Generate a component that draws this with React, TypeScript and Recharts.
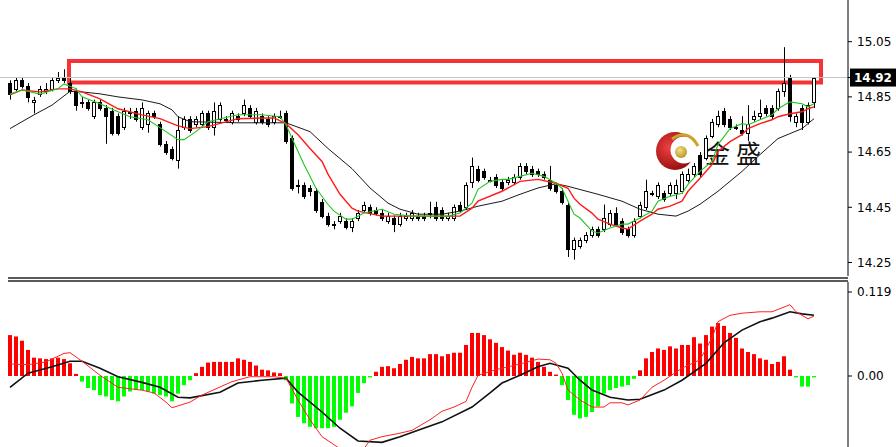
import React from 'react';
import { ComposedChart, Bar, Line, XAxis, YAxis, Cell, ReferenceLine, ReferenceArea } from 'recharts';

// 价格 K 线（每根一个值）
const openP = [
  14.90, 14.88, 14.91, 14.89, 14.83, 14.86, 14.87, 14.88, 14.91, 14.92,
  14.90, 14.87, 14.83, 14.83, 14.78, 14.83, 14.81, 14.80, 14.78, 14.74,
  14.79, 14.80, 14.74, 14.75, 14.79, 14.75, 14.68, 14.66, 14.62, 14.74,
  14.77, 14.75, 14.75, 14.79, 14.74, 14.77, 14.77, 14.76, 14.78, 14.79,
  14.81, 14.76, 14.78, 14.77, 14.76, 14.78, 14.79, 14.70, 14.53, 14.53,
  14.52, 14.51, 14.47, 14.42, 14.39, 14.40, 14.40, 14.38, 14.41, 14.44,
  14.45, 14.44, 14.43, 14.40, 14.41, 14.39, 14.41, 14.41, 14.42, 14.42,
  14.43, 14.45, 14.44, 14.41, 14.41, 14.46, 14.45, 14.54, 14.59, 14.58,
  14.55, 14.56, 14.54, 14.54, 14.54, 14.56, 14.60, 14.59, 14.58, 14.57,
  14.55, 14.53, 14.51, 14.46, 14.30, 14.31, 14.33, 14.35, 14.37, 14.37,
  14.39, 14.43, 14.40, 14.37, 14.35, 14.42, 14.45, 14.50, 14.49, 14.50,
  14.50, 14.50, 14.51, 14.55, 14.57, 14.64, 14.63, 14.71, 14.75, 14.80,
  14.77, 14.74, 14.73, 14.72, 14.77, 14.78, 14.81, 14.81, 14.81, 14.87,
  14.92, 14.76, 14.81, 14.76, 14.83,
];
const highP = [
  14.91, 14.92, 14.92, 14.90, 14.85, 14.89, 14.90, 14.92, 14.94, 14.95,
  14.92, 14.88, 14.85, 14.84, 14.84, 14.84, 14.82, 14.81, 14.79, 14.81,
  14.81, 14.81, 14.83, 14.80, 14.80, 14.76, 14.69, 14.67, 14.78, 14.78,
  14.78, 14.78, 14.80, 14.80, 14.83, 14.83, 14.78, 14.80, 14.79, 14.84,
  14.82, 14.81, 14.79, 14.78, 14.79, 14.80, 14.80, 14.71, 14.55, 14.54,
  14.53, 14.52, 14.48, 14.43, 14.40, 14.43, 14.41, 14.41, 14.44, 14.47,
  14.46, 14.45, 14.44, 14.43, 14.42, 14.43, 14.43, 14.44, 14.43, 14.43,
  14.47, 14.47, 14.45, 14.43, 14.46, 14.47, 14.54, 14.63, 14.60, 14.59,
  14.56, 14.57, 14.55, 14.56, 14.57, 14.61, 14.61, 14.60, 14.59, 14.58,
  14.60, 14.54, 14.52, 14.47, 14.34, 14.34, 14.36, 14.38, 14.38, 14.46,
  14.44, 14.45, 14.41, 14.38, 14.41, 14.47, 14.55, 14.51, 14.54, 14.51,
  14.54, 14.55, 14.58, 14.59, 14.61, 14.65, 14.71, 14.77, 14.80, 14.81,
  14.78, 14.75, 14.78, 14.82, 14.80, 14.84, 14.82, 14.82, 14.88, 15.03,
  14.93, 14.79, 14.82, 14.83, 14.92,
];
const lowP = [
  14.84, 14.87, 14.88, 14.83, 14.79, 14.85, 14.86, 14.87, 14.90, 14.90,
  14.86, 14.80, 14.81, 14.80, 14.77, 14.80, 14.68, 14.71, 14.71, 14.73,
  14.77, 14.76, 14.73, 14.72, 14.77, 14.67, 14.64, 14.62, 14.59, 14.73,
  14.72, 14.74, 14.74, 14.73, 14.71, 14.76, 14.76, 14.75, 14.76, 14.78,
  14.77, 14.75, 14.75, 14.74, 14.75, 14.77, 14.68, 14.51, 14.50, 14.48,
  14.49, 14.43, 14.41, 14.38, 14.37, 14.39, 14.37, 14.36, 14.40, 14.43,
  14.42, 14.42, 14.40, 14.39, 14.36, 14.38, 14.40, 14.40, 14.40, 14.40,
  14.41, 14.40, 14.40, 14.40, 14.40, 14.43, 14.44, 14.52, 14.54, 14.55,
  14.54, 14.52, 14.51, 14.53, 14.53, 14.55, 14.57, 14.56, 14.56, 14.55,
  14.51, 14.50, 14.46, 14.27, 14.26, 14.30, 14.32, 14.34, 14.34, 14.36,
  14.38, 14.38, 14.35, 14.34, 14.34, 14.41, 14.44, 14.49, 14.48, 14.47,
  14.49, 14.48, 14.50, 14.54, 14.56, 14.56, 14.62, 14.70, 14.74, 14.74,
  14.73, 14.73, 14.71, 14.69, 14.76, 14.77, 14.78, 14.77, 14.80, 14.85,
  14.76, 14.74, 14.73, 14.75, 14.81,
];
const closeP = [
  14.86, 14.91, 14.89, 14.85, 14.84, 14.88, 14.88, 14.91, 14.92, 14.91,
  14.87, 14.82, 14.83, 14.81, 14.83, 14.81, 14.78, 14.72, 14.72, 14.80,
  14.795, 14.77, 14.81, 14.79, 14.78, 14.68, 14.65, 14.63, 14.73, 14.77,
  14.73, 14.77, 14.79, 14.74, 14.80, 14.82, 14.77, 14.79, 14.77, 14.82,
  14.78, 14.80, 14.76, 14.75, 14.78, 14.78, 14.69, 14.52, 14.53, 14.49,
  14.51, 14.44, 14.42, 14.39, 14.39, 14.42, 14.38, 14.40, 14.43, 14.46,
  14.43, 14.43, 14.41, 14.42, 14.39, 14.42, 14.42, 14.43, 14.41, 14.41,
  14.43, 14.41, 14.41, 14.42, 14.45, 14.44, 14.53, 14.60, 14.55, 14.56,
  14.55, 14.53, 14.52, 14.55, 14.56, 14.60, 14.58, 14.57, 14.57, 14.56,
  14.52, 14.51, 14.47, 14.30, 14.33, 14.33, 14.35, 14.37, 14.35, 14.41,
  14.43, 14.39, 14.36, 14.35, 14.40, 14.46, 14.51, 14.50, 14.53, 14.48,
  14.53, 14.53, 14.57, 14.57, 14.60, 14.57, 14.70, 14.76, 14.78, 14.75,
  14.74, 14.74, 14.72, 14.75, 14.78, 14.79, 14.79, 14.78, 14.87, 14.90,
  14.78, 14.78, 14.76, 14.82, 14.92,
];

// 均线读数 [K线序号, 价格]
const maFastPts = [
  [0, 14.86], [2, 14.875], [5, 14.86], [8, 14.88], [9, 14.897], [11, 14.88], [12, 14.85],
  [15, 14.825], [18, 14.796], [20, 14.778], [23, 14.767], [26, 14.724], [28, 14.695],
  [29, 14.695], [31, 14.724], [33, 14.76], [38, 14.785], [42, 14.785], [45, 14.778],
  [46, 14.749], [47, 14.70], [49, 14.605], [51, 14.519], [53, 14.46], [54, 14.436],
  [56, 14.407], [57, 14.407], [59, 14.429], [62, 14.443], [64, 14.425], [67, 14.418],
  [70, 14.418], [73, 14.418], [75, 14.429], [77, 14.465], [78, 14.515], [80, 14.544],
  [82, 14.551], [83, 14.551], [85, 14.562], [87, 14.573], [89, 14.562], [91, 14.537],
  [92, 14.519], [93, 14.472], [94, 14.425], [95, 14.411], [97, 14.364], [98, 14.357],
  [100, 14.375], [102, 14.389], [103, 14.389], [105, 14.411], [107, 14.436], [108, 14.472],
  [110, 14.49], [112, 14.501], [113, 14.533], [115, 14.58], [117, 14.616], [118, 14.677],
  [120, 14.735], [122, 14.753], [123, 14.749], [125, 14.767], [127, 14.785], [128, 14.807],
  [130, 14.832], [132, 14.825], [133, 14.814], [134, 14.825],
];
const maMidPts = [
  [0, 14.857], [2, 14.875], [5, 14.868], [8, 14.879], [10, 14.879], [12, 14.868],
  [15, 14.843], [18, 14.807], [22, 14.785], [25, 14.771], [28, 14.745], [30, 14.735],
  [33, 14.742], [38, 14.771], [44, 14.774], [46, 14.753], [48, 14.713], [50, 14.663],
  [52, 14.616], [53, 14.57], [55, 14.497], [57, 14.447], [58, 14.436], [62, 14.418],
  [68, 14.418], [75, 14.418], [77, 14.447], [78, 14.472], [82, 14.508], [85, 14.544],
  [88, 14.551], [91, 14.537], [93, 14.519], [94, 14.483], [95, 14.461], [97, 14.429],
  [98, 14.407], [100, 14.389], [102, 14.375], [103, 14.371], [105, 14.40], [107, 14.425],
  [108, 14.443], [110, 14.454], [112, 14.472], [113, 14.508], [115, 14.555], [117, 14.605],
  [118, 14.652], [120, 14.688], [122, 14.713], [123, 14.735], [125, 14.753], [127, 14.767],
  [128, 14.778], [130, 14.789], [132, 14.796], [133, 14.807], [134, 14.814],
];
const maSlowPts = [
  [0, 14.735], [4, 14.785], [7, 14.82], [10, 14.87], [12, 14.868], [15, 14.861],
  [18, 14.85], [22, 14.839], [25, 14.825], [27, 14.803], [28, 14.778], [30, 14.76],
  [38, 14.756], [46, 14.756], [50, 14.724], [53, 14.663], [57, 14.59], [60, 14.52],
  [63, 14.465], [65, 14.443], [68, 14.425], [72, 14.425], [75, 14.436], [78, 14.454],
  [82, 14.472], [85, 14.497], [88, 14.52], [91, 14.535], [93, 14.526], [98, 14.497],
  [102, 14.472], [105, 14.443], [108, 14.425], [111, 14.418], [113, 14.436], [115, 14.461],
  [118, 14.508], [122, 14.58], [125, 14.641], [128, 14.699], [132, 14.735], [134, 14.771],
];

// MACD 柱
const macdHist = [
  0.058, 0.056, 0.050, 0.037, 0.026, 0.025, 0.024, 0.025, 0.026, 0.024,
  0.018, 0.003, -0.008, -0.017, -0.020, -0.027, -0.029, -0.034, -0.036, -0.029,
  -0.022, -0.020, -0.020, -0.022, -0.025, -0.027, -0.029, -0.036, -0.025, -0.013,
  -0.006, 0.004, 0.013, 0.019, 0.020, 0.020, 0.020, 0.020, 0.025, 0.023,
  0.020, 0.015, 0.009, 0.008, 0.005, 0.004, -0.006, -0.039, -0.058, -0.067,
  -0.072, -0.074, -0.074, -0.074, -0.072, -0.062, -0.052, -0.043, -0.024, -0.010,
  -0.002, 0.006, 0.013, 0.014, 0.011, 0.017, 0.023, 0.027, 0.025, 0.025,
  0.031, 0.031, 0.028, 0.031, 0.033, 0.033, 0.044, 0.061, 0.061, 0.058,
  0.052, 0.047, 0.041, 0.036, 0.030, 0.033, 0.030, 0.026, 0.020, 0.013,
  0.006, 0.002, -0.013, -0.034, -0.055, -0.060, -0.058, -0.051, -0.043, -0.025,
  -0.020, -0.017, -0.015, -0.013, -0.004, 0.008, 0.025, 0.034, 0.039, 0.037,
  0.042, 0.039, 0.044, 0.044, 0.055, 0.046, 0.058, 0.070, 0.075, 0.071,
  0.061, 0.054, 0.039, 0.034, 0.031, 0.025, 0.023, 0.017, 0.020, 0.028,
  0.009, -0.002, -0.015, -0.015, -0.002,
];
const macdFastPts = [
  [0, 0.017], [3, 0.016], [6, 0.020], [9, 0.032], [10, 0.033], [12, 0.021], [15, 0.001],
  [18, -0.016], [22, -0.020], [24, -0.024], [26, -0.037], [27, -0.045], [30, -0.037],
  [32, -0.027], [37, -0.008], [40, -0.001], [44, -0.001], [46, -0.003], [48, -0.034],
  [50, -0.062], [52, -0.086], [55, -0.103], [59, -0.103], [60, -0.091], [62, -0.086],
  [65, -0.081], [67, -0.077], [70, -0.062], [72, -0.050], [74, -0.044], [76, -0.036],
  [77, -0.016], [78, 0.001], [81, 0.009], [85, 0.017], [88, 0.024], [90, 0.023],
  [91, 0.018], [92, 0.004], [93, -0.020], [95, -0.034], [97, -0.044], [99, -0.044],
  [100, -0.038], [102, -0.038], [103, -0.041], [105, -0.034], [107, -0.016], [109, -0.006],
  [112, 0.011], [115, 0.023], [117, 0.054], [118, 0.077], [120, 0.086], [122, 0.089],
  [125, 0.091], [127, 0.091], [130, 0.101], [131, 0.091], [133, 0.081], [134, 0.085],
];
const macdSlowPts = [
  [0, -0.016], [3, 0.004], [7, 0.013], [10, 0.021], [12, 0.021], [15, 0.011], [18, -0.001],
  [22, -0.009], [25, -0.016], [28, -0.030], [30, -0.031], [35, -0.023], [38, -0.010],
  [42, -0.006], [46, -0.003], [48, -0.023], [52, -0.051], [55, -0.074], [58, -0.092],
  [62, -0.094], [65, -0.086], [68, -0.077], [72, -0.065], [77, -0.044], [80, -0.024],
  [82, -0.010], [85, 0.001], [88, 0.013], [90, 0.018], [93, 0.011], [95, -0.006],
  [97, -0.020], [100, -0.030], [103, -0.034], [105, -0.033], [109, -0.020], [112, -0.006],
  [116, 0.018], [119, 0.047], [122, 0.065], [125, 0.077], [127, 0.082], [130, 0.091],
  [132, 0.088], [134, 0.086],
];

const priceTicks = [15.05, 14.92, 14.85, 14.65, 14.45, 14.25];
const lastPrice = 14.92;
const macdTicks = [0.119, 0];
// 红框（价格区间）
const boxFrom = 9.83;
const boxTo = 135.17;
const boxLow = 14.902;
const boxHigh = 14.98;

const X_DOMAIN = [-10 / 6, 139.6667];
const FONT = 'DejaVu Sans, Liberation Sans, sans-serif';

const rows = openP.map((o, i) => ({
  i,
  open: o,
  high: highP[i],
  low: lowP[i],
  close: closeP[i],
  range: [lowP[i], highP[i]],
  hist: macdHist[i],
}));

const toSeries = (pts: number[][]) => pts.map(([i, v]) => ({ i, v }));
const maFast = toSeries(maFastPts);
const maMid = toSeries(maMidPts);
const maSlow = toSeries(maSlowPts);
const dif = toSeries(macdFastPts);
const dea = toSeries(macdSlowPts);

// K 线形状
const Candle = (props: any) => {
  const { x, y, width, height, payload } = props;
  if (x == null || y == null) return null;
  const { open, close, high, low } = payload;
  const k = high > low ? height / (high - low) : 0;
  const yOf = (v: number) => y + (high - v) * k;
  const left = Math.round(x) + 0.5;
  const cx = Math.round(x + width / 2) + 0.5;
  const top = Math.round(yOf(Math.max(open, close))) + 0.5;
  const bot = Math.round(yOf(Math.min(open, close))) + 0.5;
  const bull = close >= open;
  return (
    <g>
      <line x1={cx} x2={cx} y1={y} y2={y + height} stroke="#000" strokeWidth={1} />
      <rect
        x={left}
        y={top}
        width={Math.max(width - 1, 2)}
        height={Math.max(bot - top, 1)}
        fill={bull ? '#fff' : '#000'}
        stroke="#000"
        strokeWidth={1}
      />
    </g>
  );
};

const PriceTick = (props: any) => {
  const { x, y, payload } = props;
  const v = payload.value;
  if (Math.abs(v - lastPrice) < 1e-6) {
    return (
      <g>
        <rect x={x - 7} y={y - 9} width={48} height={18} fill="#000" />
        <text x={x - 3} y={y} dy="0.36em" fill="#fff" fontSize={12} fontWeight="bold" fontFamily={FONT}>
          {v.toFixed(2)}
        </text>
      </g>
    );
  }
  return (
    <text x={x} y={y} dy="0.36em" fill="#000" fontSize={12} fontFamily={FONT}>
      {v.toFixed(2)}
    </text>
  );
};

const MacdTick = (props: any) => {
  const { x, y, payload } = props;
  const v = payload.value;
  return (
    <text x={x} y={y} dy="0.36em" fill="#000" fontSize={12} fontFamily={FONT}>
      {v === 0 ? '0.00' : v.toFixed(3)}
    </text>
  );
};

const Logo = () => (
  <svg width={896} height={447} style={{ position: 'absolute', left: 0, top: 0 }}>
    <defs>
      <radialGradient id="lg" cx="35%" cy="40%" r="70%">
        <stop offset="0%" stopColor="#f04040" />
        <stop offset="100%" stopColor="#8e0a0a" />
      </radialGradient>
      <radialGradient id="gold" cx="40%" cy="35%" r="70%">
        <stop offset="0%" stopColor="#f6e08a" />
        <stop offset="100%" stopColor="#b8921e" />
      </radialGradient>
    </defs>
    <circle cx={675} cy={151} r={19} fill="url(#lg)" />
    <circle cx={684} cy={150} r={13.5} fill="#fff" />
    <path d="M 672 139 Q 688 128 698 146" stroke="#c9a32c" strokeWidth={3} fill="none" />
    <circle cx={681} cy={152} r={6} fill="url(#gold)" />
    <text x={705} y={163} fontSize={25} fill="#111" letterSpacing={6} fontFamily="Noto Sans CJK SC">
      金盛
    </text>
  </svg>
);

const lineProps = { dot: false, activeDot: false, isAnimationActive: false, dataKey: 'v' } as const;

export default function App() {
  return (
    <div style={{ position: 'fixed', left: 0, top: 0, width: 896, height: 447, background: '#fff', fontFamily: FONT }}>
      <Logo />
      <div style={{ position: 'absolute', left: 0, top: 0 }}>
        <ComposedChart width={896} height={276} data={rows} margin={{ top: 0, right: 0, bottom: 0, left: 0 }}>
          <XAxis dataKey="i" type="number" domain={X_DOMAIN} hide allowDataOverflow />
          <YAxis
            orientation="right"
            width={48}
            domain={[14.201, 15.201]}
            allowDataOverflow
            ticks={priceTicks}
            interval={0}
            tickSize={4}
            tickMargin={5}
            axisLine={{ stroke: '#000' }}
            tickLine={{ stroke: '#000' }}
            tick={<PriceTick />}
          />
          <ReferenceLine y={lastPrice} stroke="#c4c4c4" strokeWidth={1} />
          <Bar dataKey="range" barSize={4} shape={<Candle />} activeBar={false} isAnimationActive={false} />
          <Line data={maSlow} stroke="#1a1a1a" strokeWidth={1} {...lineProps} />
          <Line data={maMid} stroke="#ff1a1a" strokeWidth={1.4} {...lineProps} />
          <Line data={maFast} stroke="#22c422" strokeWidth={1.1} {...lineProps} />
          <ReferenceArea
            x1={boxFrom}
            x2={boxTo}
            y1={boxLow}
            y2={boxHigh}
            fill="none"
            fillOpacity={0}
            stroke="#f53333"
            strokeWidth={4}
            ifOverflow="visible"
          />
        </ComposedChart>
      </div>
      <div
        style={{
          position: 'absolute',
          left: 8,
          top: 277,
          width: 840,
          height: 1,
          borderTop: '2px solid #5a5a5a',
          borderBottom: '2px solid #5a5a5a',
        }}
      />
      <div style={{ position: 'absolute', left: 0, top: 282 }}>
        <ComposedChart width={896} height={165} data={rows} margin={{ top: 0, right: 0, bottom: 0, left: 0 }}>
          <XAxis dataKey="i" type="number" domain={X_DOMAIN} hide allowDataOverflow />
          <YAxis
            orientation="right"
            width={48}
            domain={[-0.1006, 0.1332]}
            allowDataOverflow
            ticks={macdTicks}
            interval={0}
            tickSize={4}
            tickMargin={5}
            axisLine={{ stroke: '#000' }}
            tickLine={{ stroke: '#000' }}
            tick={<MacdTick />}
          />
          <Bar dataKey="hist" barSize={4} activeBar={false} isAnimationActive={false}>
            {rows.map((r) => (
              <Cell key={r.i} fill={r.hist >= 0 ? '#ff0000' : '#00ff00'} />
            ))}
          </Bar>
          <Line data={dea} stroke="#111" strokeWidth={1.6} {...lineProps} />
          <Line data={dif} stroke="#ff2020" strokeWidth={1} {...lineProps} />
        </ComposedChart>
      </div>
    </div>
  );
}
